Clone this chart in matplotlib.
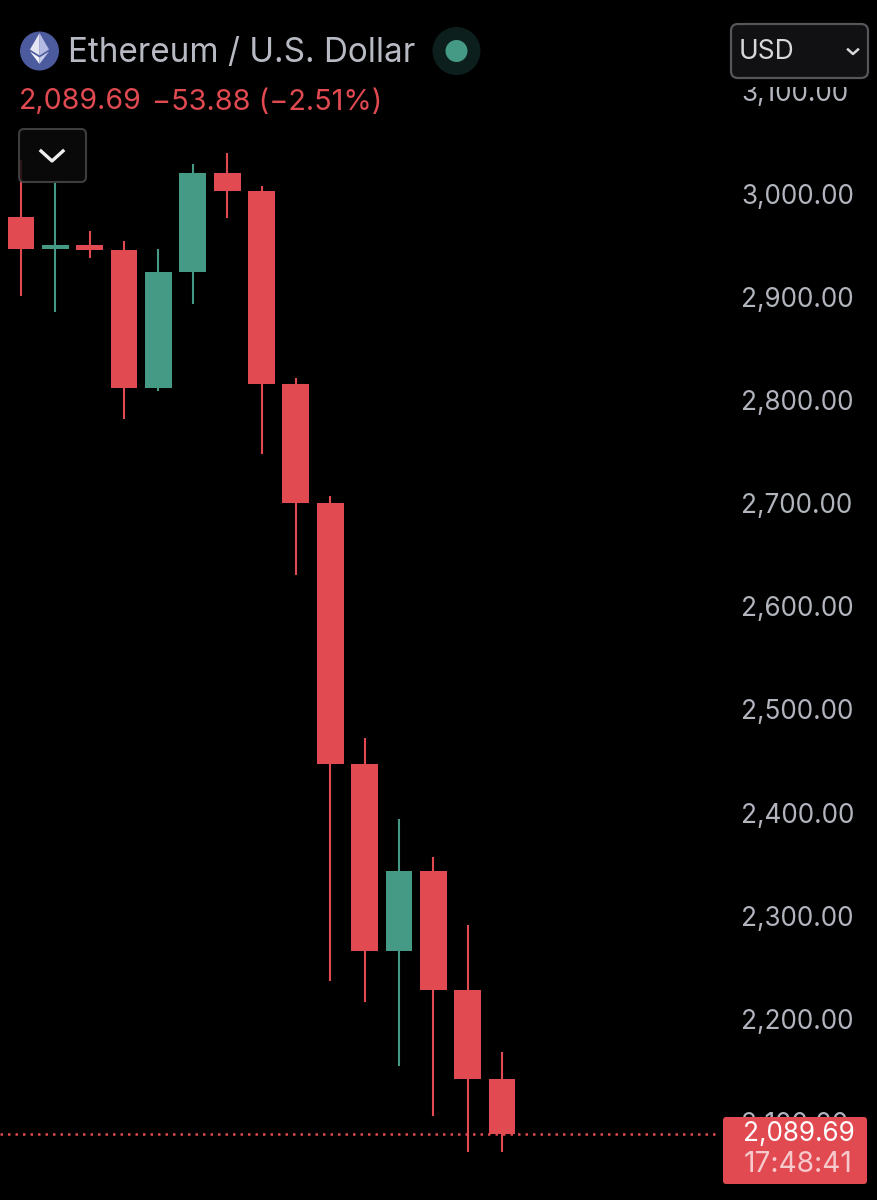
import matplotlib
matplotlib.use("Agg")
import matplotlib.pyplot as plt
from matplotlib.patches import Circle, FancyBboxPatch, Polygon, Rectangle
from matplotlib.lines import Line2D

plt.rcParams['font.family'] = ['Inter', 'DejaVu Sans']

W, H = 878, 1200
RED = '#E24A52'
GREEN = '#459A85'
GREY = '#B2B5BE'
TITLE_GREY = '#B8BAC3'

opens  = [2977.7, 2946.7, 2950.5, 2946.0, 2811.8, 2924.3, 3020.4, 3003.4, 2815.7, 2700.3, 2447.1, 2265.8, 2343.4, 2227.9, 2141.6]
highs  = [3033.0, 3010.7, 2964.0, 2954.4, 2946.7, 3029.0, 3039.8, 3007.8, 2821.5, 2707.0, 2472.4, 2393.8, 2357.0, 2291.0, 2167.8]
lows   = [2901.0, 2885.5, 2938.0, 2781.8, 2808.9, 2893.3, 2976.7, 2747.8, 2630.5, 2236.7, 2216.3, 2154.2, 2105.7, 2070.8, 2070.8]
closes = [2946.7, 2950.5, 2946.0, 2811.8, 2924.3, 3020.4, 3003.4, 2815.7, 2700.3, 2447.1, 2265.8, 2343.4, 2227.9, 2141.6, 2088.0]
price_ticks = [2100, 2200, 2300, 2400, 2500, 2600, 2700, 2800, 2900, 3000, 3100]
last_price_line = 2088.0

fig = plt.figure(figsize=(W / 100, H / 100), dpi=100, facecolor='black')
ax = fig.add_axes([0, 0, 1, 1], facecolor='black')
ax.set_xlim(-0.61, 24.94)
ax.set_ylim(2024.2, 3188.2)
for s in ax.spines.values():
    s.set_visible(False)
ax.set_xticks([])
ax.set_yticks(price_ticks)
ax.set_yticklabels([f'{p:,.2f}' for p in price_ticks], fontsize=18.8, color=GREY)
ax.yaxis.tick_right()
ax.tick_params(axis='y', length=0, pad=-98.5, direction='in')

for i, (o, h, l, c) in enumerate(zip(opens, highs, lows, closes)):
    col = GREEN if c >= o else RED
    ax.vlines(i, l, h, color=col, lw=1.5, zorder=2)
    ax.bar(i, abs(c - o), bottom=min(o, c), width=0.78, color=col, lw=0, zorder=3)

ax.plot([-0.61, 20.3], [last_price_line, last_price_line], color=RED, lw=1.8,
        ls=(0, (1, 2.0)), zorder=2)

# UI overlay in pixel coordinates
ui = fig.add_axes([0, 0, 1, 1], facecolor='none')
ui.set_xlim(0, W)
ui.set_ylim(H, 0)
ui.axis('off')

# Ethereum badge
ui.add_patch(Circle((39.5, 51), 19.5, fc='#4C5A9E', ec='none'))
ui.add_patch(Polygon([(39.5, 33), (30, 49.5), (39.5, 55.5)], fc='#E3E5F2', ec='none'))
ui.add_patch(Polygon([(39.5, 33), (49, 49.5), (39.5, 55.5)], fc='#B4BBE2', ec='none'))
ui.add_patch(Polygon([(30, 51.5), (39.5, 57.5), (39.5, 64)], fc='#F0F1F8', ec='none'))
ui.add_patch(Polygon([(49, 51.5), (39.5, 57.5), (39.5, 64)], fc='#C4CAE8', ec='none'))

ui.text(68, 53, 'Ethereum / U.S. Dollar', fontsize=23.95, color=TITLE_GREY, va='center', ha='left')
ui.add_patch(Circle((456.5, 51), 24, fc='#0D1F1C', ec='none'))
ui.add_patch(Circle((456.5, 51), 11, fc=GREEN, ec='none'))

ui.text(19, 102, '2,089.69', fontsize=20.5, color=RED, va='center', ha='left')
ui.text(152, 102, '\u221253.88 (\u22122.51%)', fontsize=20.8, color=RED, va='center', ha='left')

# collapse button
ui.add_patch(FancyBboxPatch((19, 129), 67, 53, boxstyle='round,pad=0,rounding_size=5',
                            fc='#0B0B0C', ec='#48484A', lw=1.5, alpha=0.85, zorder=5))
ui.add_line(Line2D([41, 52, 63], [151, 161, 151], color='#EDEDED', lw=2.4, zorder=6))

# currency selector; masks the top of the highest tick label
ui.add_patch(Rectangle((730, 70), 148, 17, fc='black', ec='none', zorder=4))
ui.add_patch(FancyBboxPatch((731, 24), 137, 54, boxstyle='round,pad=0,rounding_size=7',
                            fc='#111113', ec='#55565A', lw=1.6, zorder=5))
ui.text(739, 52, 'USD', fontsize=19, color='#D6D7DB', va='center', ha='left', zorder=6)
ui.add_line(Line2D([848, 853, 858], [49.5, 54, 49.5], color='#D6D7DB', lw=1.8, zorder=6))

# last price label
ui.add_patch(FancyBboxPatch((723, 1117), 144, 67, boxstyle='round,pad=0,rounding_size=3',
                            fc=RED, ec='none', zorder=5))
ui.text(798.5, 1134, '2,089.69', fontsize=18.8, color='#FFFFFF', va='center', ha='center', zorder=6)
ui.text(798, 1165, '17:48:41', fontsize=20.2, color='#F6C9CC', va='center', ha='center', zorder=6)

fig.savefig('out.png', dpi=100, facecolor='black')
